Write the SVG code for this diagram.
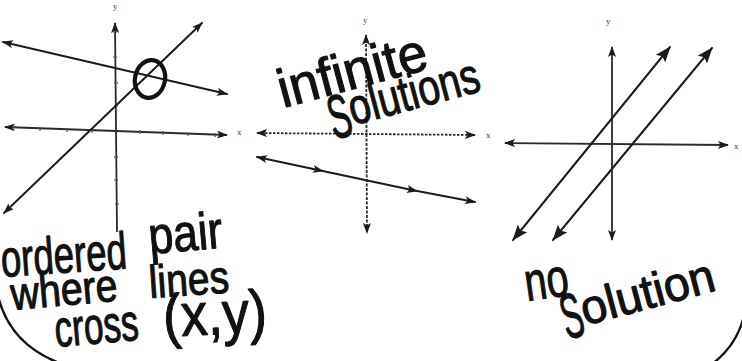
<svg xmlns="http://www.w3.org/2000/svg" width="742" height="361" viewBox="0 0 742 361">
<style>
.ln{stroke:#1c1c1c;stroke-width:2;fill:none;stroke-linecap:round}
.ax{stroke:#2a2a2a;stroke-width:1.8;fill:none}
.tk{stroke:#555;stroke-width:1.2}
.hand{font-family:"Liberation Sans",Arial,sans-serif;fill:#111;stroke:#111;stroke-width:1.1;stroke-linejoin:round}
.lbl{font-family:"Liberation Serif",serif;font-size:9px;fill:#444}
.arc{stroke:#111;stroke-width:2.4;fill:none}
</style>
<defs>
<marker id="ah" viewBox="0 0 11 8" refX="10" refY="4" markerWidth="11" markerHeight="8" markerUnits="userSpaceOnUse" orient="auto-start-reverse">
<path d="M0,0 L11,4 L0,8 L2.5,4 z" fill="#1c1c1c"/>
</marker>
<marker id="ahL" viewBox="0 0 16 12" refX="15" refY="6" markerWidth="16" markerHeight="12" markerUnits="userSpaceOnUse" orient="auto-start-reverse">
<path d="M0,0 L16,6 L0,12 L3,6 z" fill="#1c1c1c"/>
</marker>
<marker id="mid" viewBox="0 0 11 8" refX="5" refY="4" markerWidth="11" markerHeight="8" markerUnits="userSpaceOnUse" orient="auto">
<path d="M0,0 L11,4 L0,8 L2.5,4 z" fill="#1c1c1c"/>
</marker>
</defs>
<rect width="742" height="361" fill="#ffffff"/>

<g id="panel-one-solution">
<g id="axes1">
<line class="ax" x1="5" y1="127" x2="227" y2="135" marker-start="url(#ah)" marker-end="url(#ah)"/>
<line class="ax" x1="117" y1="232" x2="115" y2="23" marker-end="url(#ah)"/>
<g class="tk">
<line x1="13" y1="126" x2="13" y2="130"/><line x1="40" y1="127" x2="40" y2="131"/><line x1="67" y1="128" x2="67" y2="132"/><line x1="92" y1="129" x2="92" y2="133"/><line x1="140" y1="130" x2="140" y2="134"/><line x1="163" y1="131" x2="163" y2="135"/><line x1="188" y1="132" x2="188" y2="136"/><line x1="215" y1="133" x2="215" y2="137"/>
<line x1="113" y1="32" x2="117" y2="32"/><line x1="113" y1="57" x2="117" y2="57"/><line x1="114" y1="83" x2="118" y2="83"/><line x1="114" y1="106" x2="118" y2="106"/><line x1="114" y1="157" x2="118" y2="157"/><line x1="114" y1="180" x2="118" y2="180"/><line x1="115" y1="204" x2="119" y2="204"/>
</g>
<text class="lbl" x="113" y="9">y</text>
<text class="lbl" x="237" y="135">x</text>
</g>
<line class="ln" x1="3" y1="42" x2="227" y2="94" marker-start="url(#ah)" marker-end="url(#ah)"/>
<line class="ln" x1="4" y1="213" x2="202" y2="23" marker-start="url(#ah)" marker-end="url(#ah)"/>
<ellipse cx="150" cy="79" rx="15" ry="19" transform="rotate(12 150 79)" fill="none" stroke="#111" stroke-width="4.2"/>
<g id="label1">
<text class="hand" font-size="52" transform="translate(2,277) rotate(-4)" textLength="126" lengthAdjust="spacingAndGlyphs">ordered</text>
<text class="hand" font-size="52" transform="translate(150,254) rotate(-5)" textLength="74" lengthAdjust="spacingAndGlyphs">pair</text>
<text class="hand" font-size="46" transform="translate(12,310) rotate(-5)" textLength="107" lengthAdjust="spacingAndGlyphs">where</text>
<text class="hand" font-size="46" transform="translate(150,298) rotate(-4)" textLength="80" lengthAdjust="spacingAndGlyphs">lines</text>
<text class="hand" font-size="52" transform="translate(56,347) rotate(-5)" textLength="84" lengthAdjust="spacingAndGlyphs">cross</text>
<text class="hand" font-size="60" transform="translate(164,337) rotate(-3)" textLength="104" lengthAdjust="spacingAndGlyphs">(x,y)</text>
</g>
</g>

<g id="panel-infinite">
<g id="axes2">
<line class="ax" x1="257" y1="133" x2="475" y2="135" stroke-dasharray="2.5 1.5" marker-start="url(#ah)" marker-end="url(#ah)"/>
<line class="ax" x1="366" y1="35" x2="367" y2="233" stroke-dasharray="3 1.5" marker-start="url(#ah)" marker-end="url(#ah)"/>
<text class="lbl" x="363" y="23">y</text>
<text class="lbl" x="486" y="138">x</text>
</g>
<polyline class="ln" points="257,157 318,170 412,190 475,202" marker-start="url(#ah)" marker-mid="url(#mid)" marker-end="url(#ah)"/>
<g id="label2">
<text class="hand" font-size="54" transform="translate(283,108) rotate(-15)" textLength="153" lengthAdjust="spacingAndGlyphs">infinite</text>
<text class="hand" font-size="50" transform="translate(332,131) rotate(-15)"><tspan font-size="62" dy="9" textLength="22" lengthAdjust="spacingAndGlyphs">S</tspan><tspan dy="-9" textLength="134" lengthAdjust="spacingAndGlyphs">olutions</tspan></text>
</g>
</g>

<g id="panel-no-solution">
<g id="axes3">
<line class="ax" x1="505" y1="143" x2="728" y2="145" marker-start="url(#ah)" marker-end="url(#ah)"/>
<line class="ax" x1="612" y1="47" x2="612" y2="240" marker-start="url(#ah)" marker-end="url(#ah)"/>
<text class="lbl" x="606" y="24">y</text>
<text class="lbl" x="734" y="149">x</text>
</g>
<line class="ln" x1="513" y1="240" x2="670" y2="47" stroke-width="2.4" marker-start="url(#ahL)" marker-end="url(#ahL)"/>
<line class="ln" x1="553" y1="240" x2="712" y2="48" stroke-width="2.4" marker-start="url(#ahL)" marker-end="url(#ahL)"/>
<g id="label3">
<text class="hand" font-size="54" transform="translate(527,301) rotate(-8)" textLength="44" lengthAdjust="spacingAndGlyphs">no</text>
<text class="hand" font-size="48" transform="translate(565,331) rotate(-15)"><tspan font-size="64" dy="9" textLength="21" lengthAdjust="spacingAndGlyphs">S</tspan><tspan dy="-9" textLength="137" lengthAdjust="spacingAndGlyphs">olution</tspan></text>
</g>
</g>

<g id="frame">
<path class="arc" d="M-2,296 Q10,345 62,364"/>
<path class="arc" d="M745,312 Q738,345 712,364"/>
</g>
</svg>
